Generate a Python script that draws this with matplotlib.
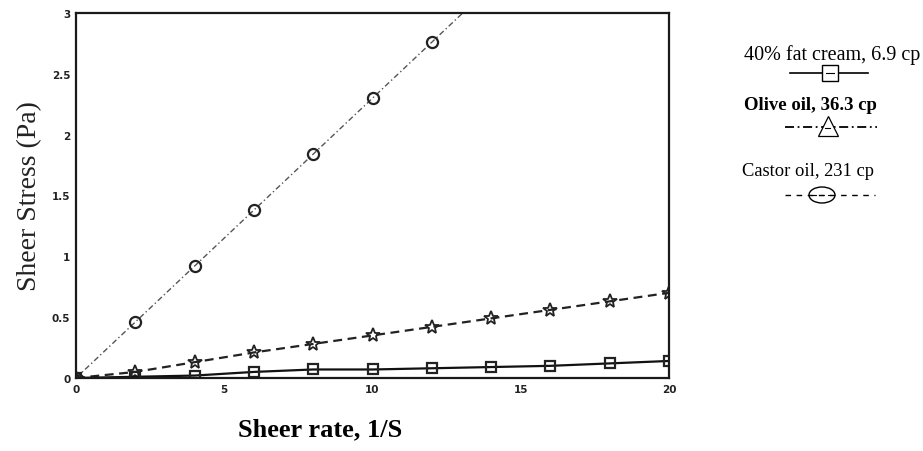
import matplotlib.pyplot as plt
from matplotlib.patches import Ellipse

# shear rate (1/s) and shear stress (Pa)
rate = [0, 2, 4, 6, 8, 10, 12, 14, 16, 18, 20]
cream_stress = [0, 0.01, 0.02, 0.05, 0.07, 0.07, 0.08, 0.09, 0.10, 0.12, 0.14]
olive_stress = [0, 0.05, 0.13, 0.21, 0.28, 0.35, 0.42, 0.49, 0.56, 0.63, 0.70]
castor_rate = [0, 2, 4, 6, 8, 10, 12, 14]
castor_stress = [0, 0.46, 0.92, 1.38, 1.84, 2.30, 2.76, 3.22]

y_ticks = [0, 0.5, 1, 1.5, 2, 2.5, 3]
y_tick_labels = ["0", "0.5", "1", "1.5", "2", "2.5", "3"]
x_ticks = [0, 5, 10, 15, 20]
x_tick_labels = ["0", "5", "10", "15", "20"]

legend_labels = ["40% fat cream, 6.9 cp", "Olive oil, 36.3 cp", "Castor oil, 231 cp"]

SERIF = ["Liberation Serif", "DejaVu Serif"]

W, H = 923, 452
fig = plt.figure(figsize=(W / 100, H / 100), dpi=100)
ax = fig.add_axes([76 / W, 1 - 379 / H, (669 - 76) / W, (379 - 14) / H])

ax.plot(castor_rate, castor_stress, color="#555555", lw=1.0,
        linestyle=(0, (4, 2, 1, 2)), marker="o", markersize=8,
        markerfacecolor="none", markeredgecolor="#222222", markeredgewidth=1.6)
ax.plot(rate, olive_stress, color="#222222", lw=1.6, linestyle=(0, (4, 2.5)),
        marker="*", markersize=10, markerfacecolor="none",
        markeredgecolor="#222222", markeredgewidth=1.3)
ax.plot(rate, cream_stress, color="#111111", lw=1.6, marker="s", markersize=7,
        markerfacecolor="none", markeredgecolor="#222222", markeredgewidth=1.6)

ax.set_xlim(0, 20)
ax.set_ylim(0, 3)
ax.set_xticks(x_ticks)
ax.set_xticklabels(x_tick_labels)
ax.set_yticks(y_ticks)
ax.set_yticklabels(y_tick_labels)
ax.tick_params(length=0, labelsize=7.5, pad=4, colors="#222222")
for lbl in ax.get_xticklabels() + ax.get_yticklabels():
    lbl.set_fontweight("bold")
for sp in ax.spines.values():
    sp.set_linewidth(1.6)
    sp.set_color("#1a1a1a")

fig.text(30 / W, 1 - 196 / H, "Sheer Stress (Pa)", rotation=90, ha="center",
         va="center", fontsize=20, family=SERIF, color="#222222")
fig.text(320 / W, 1 - 430 / H, "Sheer rate, 1/S", ha="center", va="center",
         fontsize=19, fontweight="bold", family=SERIF)

# hand-drawn style legend on the right, labels above their line samples
lg = fig.add_axes([0, 0, 1, 1])
lg.set_xlim(0, W)
lg.set_ylim(H, 0)
lg.axis("off")

lg.text(832, 55, legend_labels[0], ha="center", va="center", fontsize=14.5, family=SERIF)
lg.plot([790, 868], [74, 74], color="black", lw=1.2)
lg.plot([830], [74], marker="s", markersize=11, markerfacecolor="white",
        markeredgecolor="black", markeredgewidth=1)
lg.plot([826, 834], [74, 74], color="black", lw=0.8)

lg.text(810, 105, legend_labels[1], ha="center", va="center", fontsize=13.5,
        fontweight="bold", family=SERIF)
lg.plot([785, 877], [128, 128], color="black", lw=1.3, linestyle=(0, (5, 2, 1, 2)))
lg.plot([828], [127], marker="^", markersize=15, markerfacecolor="white",
        markeredgecolor="black", markeredgewidth=0.9)
lg.plot([825, 830], [129, 129], color="black", lw=0.8)

lg.text(808, 172, legend_labels[2], ha="center", va="center", fontsize=13.3, family=SERIF)
lg.plot([785, 875], [196, 196], color="black", lw=1.0, linestyle=(0, (4, 4)))
lg.add_patch(Ellipse((822, 196), 26, 16, facecolor="white", edgecolor="black", lw=1.0))
lg.plot([812, 832], [196, 196], color="black", lw=0.8, linestyle=(0, (4, 3)))

fig.savefig("out.png", dpi=100)
